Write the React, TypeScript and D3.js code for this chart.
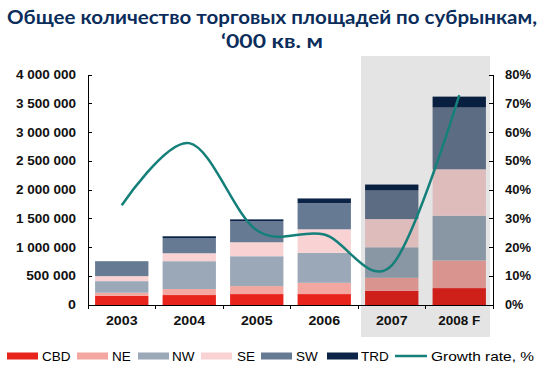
import React from "react";
import * as d3 from "d3";

const years = ["2003", "2004", "2005", "2006", "2007", "2008 F"];
const seriesNames = ["CBD", "NE", "NW", "SE", "SW", "TRD"];
const cbd = [161000, 173000, 190000, 190000, 248000, 294000];
const ne = [52000, 104000, 139000, 196000, 225000, 480000];
const nw = [202000, 485000, 519000, 520000, 531000, 779000];
const se = [87000, 138000, 243000, 410000, 490000, 807000];
const sw = [260000, 265000, 369000, 455000, 497000, 1074000];
const trd = [0, 30000, 29000, 82000, 104000, 190000];
const growth = [34.7, 56.3, 26, 24.5, 13.8, 73];
const leftTicks = [0, 500000, 1000000, 1500000, 2000000, 2500000, 3000000, 3500000, 4000000];
const rightTicks = [0, 10, 20, 30, 40, 50, 60, 70, 80];
const colors = ["#e8231c", "#f4a6a0", "#9aa8b8", "#f9d3d3", "#677a93", "#0a2347"];
const lineColor = "#15807a";
const shadedYears = ["2007", "2008 F"];

const widthOf = (s: string, digit: number, space: number, pct: number, other: number) =>
  s.split("").reduce((a, c) => a + (c === " " ? space : c === "%" ? pct : /\d/.test(c) ? digit : other), 0);

export default function App() {
  const W = 542, H = 378;
  const left = 88, right = 493, top = 75, bottom = 305;
  const x = d3.scaleBand().domain(years).range([left, right]).paddingInner(0.21).paddingOuter(0.105);
  const xc = d3.scaleBand().domain(years).range([left, right]);
  const y = d3.scaleLinear().domain([0, 4000000]).range([bottom, top]);
  const y2 = d3.scaleLinear().domain([0, 80]).range([bottom, top]);
  const data = years.map((yr, i) => ({ year: yr, CBD: cbd[i], NE: ne[i], NW: nw[i], SE: se[i], SW: sw[i], TRD: trd[i] }));
  const stack = d3.stack<any>().keys(seriesNames)(data);
  const line = d3
    .line<number>()
    .x((_, i) => (xc(years[i]) as number) + xc.bandwidth() / 2)
    .y((d) => y2(d))
    .curve(d3.curveCatmullRom.alpha(0));
  const fmt = (v: number) => d3.format(",")(v).replace(/,/g, " ");
  const shadeX0 = (xc(shadedYears[0]) as number) + 3;
  const shadeX1 = right - 3;
  const font = "'Liberation Sans', Arial, sans-serif";
  const titleFont = "Lato, 'Open Sans', sans-serif";

  const legendItems = [
    { name: "CBD", x: 7, tx: 42 },
    { name: "NE", x: 77, tx: 112 },
    { name: "NW", x: 138, tx: 172 },
    { name: "SE", x: 201, tx: 237 },
    { name: "SW", x: 261, tx: 296 },
    { name: "TRD", x: 327, tx: 361 },
  ];
  const ly = 356;

  return (
    <svg width={W} height={H} style={{ position: "absolute", left: 0, top: 0, background: "#fff" }}>
      <text x={W / 2 + 1} y={24} textAnchor="middle" fontFamily={titleFont} fontWeight="bold" fontSize={19.5} fill="#0b2d5b" textLength={530} lengthAdjust="spacingAndGlyphs">
        Общее количество торговых площадей по субрынкам,
      </text>
      <text x={W / 2 + 1} y={48} textAnchor="middle" fontFamily={titleFont} fontWeight="bold" fontSize={19.5} fill="#0b2d5b" textLength={102} lengthAdjust="spacingAndGlyphs">
        ‘000 кв. м
      </text>
      {stack.map((s, si) => (
        <g key={seriesNames[si]} fill={colors[si]}>
          {s.map((d, i) => (
            <rect key={i} x={x(years[i])} width={x.bandwidth()} y={y(d[1])} height={Math.max(0, y(d[0]) - y(d[1]))} />
          ))}
        </g>
      ))}
      <rect x={shadeX0} y={56} width={shadeX1 - shadeX0} height={281} fill="#000" opacity={0.105} />
      <g stroke="#000" strokeWidth={1} fill="none" shapeRendering="crispEdges">
        <line x1={left} x2={left} y1={top} y2={bottom} />
        <line x1={right} x2={right} y1={top} y2={bottom} />
        <line x1={left} x2={right} y1={bottom} y2={bottom} />
        {leftTicks.map((t) => (
          <line key={"l" + t} x1={left} x2={left + 4} y1={y(t)} y2={y(t)} />
        ))}
        {rightTicks.map((t) => (
          <line key={"r" + t} x1={right - 4} x2={right} y1={y2(t)} y2={y2(t)} />
        ))}
        {years.map((yr) => (
          <line key={"x" + yr} x1={xc(yr)} x2={xc(yr)} y1={bottom} y2={bottom + 4} />
        ))}
        <line x1={right} x2={right} y1={bottom} y2={bottom + 4} />
      </g>
      <g fontFamily={font} fontWeight="bold" fontSize={12} fill="#111">
        {leftTicks.map((t) => {
          const s = fmt(t);
          return (
            <text key={t} x={76} y={y(t) + 4.2} textAnchor="end" textLength={widthOf(s, 7.9, 2.4, 10.6, 7)} lengthAdjust="spacingAndGlyphs">
              {s}
            </text>
          );
        })}
        {rightTicks.map((t) => {
          const s = `${t}%`;
          return (
            <text key={t} x={505} y={y2(t) + 4.2} textLength={widthOf(s, 7.7, 2.4, 10.6, 7)} lengthAdjust="spacingAndGlyphs">
              {s}
            </text>
          );
        })}
        {years.map((yr) => (
          <text
            key={yr}
            x={(xc(yr) as number) + xc.bandwidth() / 2}
            y={325}
            textAnchor="middle"
            fontSize={12}
            textLength={widthOf(yr, 7.9, 2.6, 10, 7.8)}
            lengthAdjust="spacingAndGlyphs"
          >
            {yr}
          </text>
        ))}
      </g>
      <path d={line(growth) || ""} fill="none" stroke={lineColor} strokeWidth={2.5} />
      <g fontFamily={font} fontSize={13.5} fill="#000">
        {legendItems.map((it, i) => (
          <g key={it.name}>
            <rect x={it.x} y={ly - 3.5} width={31} height={7} fill={colors[i]} />
            <text x={it.tx} y={ly + 5}>{it.name}</text>
          </g>
        ))}
        <line x1={395} x2={427} y1={ly} y2={ly} stroke={lineColor} strokeWidth={2.5} />
        <text x={431} y={ly + 5} textLength={103} lengthAdjust="spacingAndGlyphs">
          Growth rate, %
        </text>
      </g>
    </svg>
  );
}
